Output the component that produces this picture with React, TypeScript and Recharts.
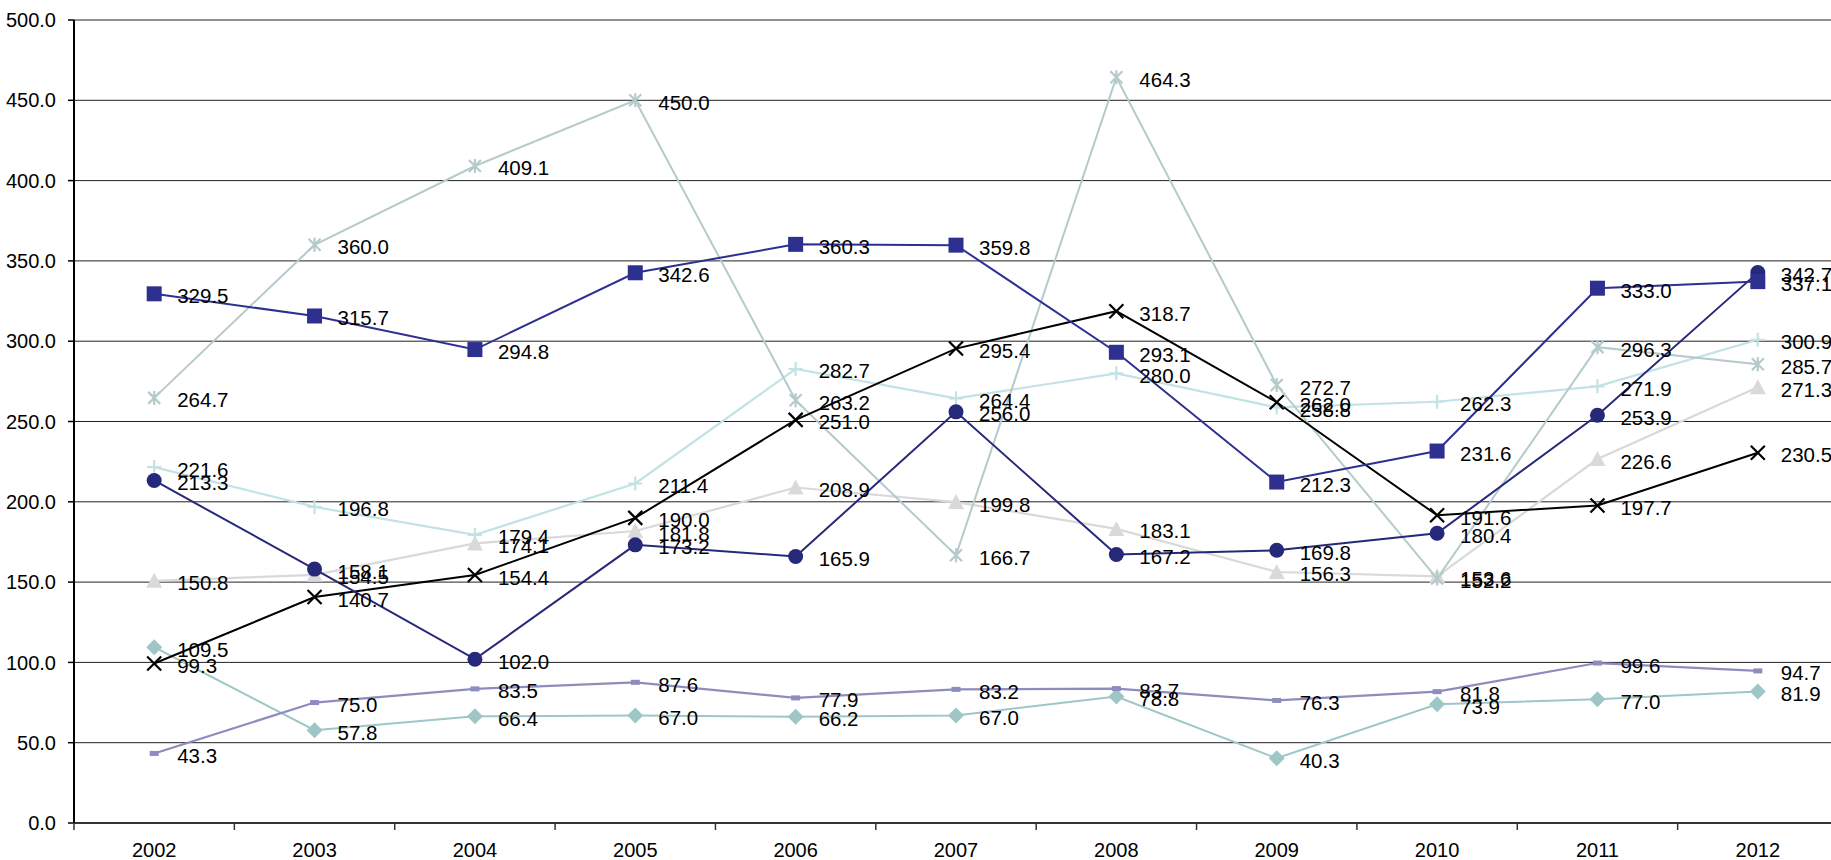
import React from 'react';
import { LineChart, Line, XAxis, YAxis, CartesianGrid } from 'recharts';

const years = ['2002', '2003', '2004', '2005', '2006', '2007', '2008', '2009', '2010', '2011', '2012'];

const squares = [329.5, 315.7, 294.8, 342.6, 360.3, 359.8, 293.1, 212.3, 231.6, 333.0, 337.1];
const circles = [213.3, 158.1, 102.0, 173.2, 165.9, 256.0, 167.2, 169.8, 180.4, 253.9, 342.7];
const crosses = [99.3, 140.7, 154.4, 190.0, 251.0, 295.4, 318.7, 262.0, 191.6, 197.7, 230.5];
const stars = [264.7, 360.0, 409.1, 450.0, 263.2, 166.7, 464.3, 272.7, 152.2, 296.3, 285.7];
const pluses = [221.6, 196.8, 179.4, 211.4, 282.7, 264.4, 280.0, 258.8, 262.3, 271.9, 300.9];
const triangles = [150.8, 154.5, 174.1, 181.8, 208.9, 199.8, 183.1, 156.3, 153.6, 226.6, 271.3];
const dashes = [43.3, 75.0, 83.5, 87.6, 77.9, 83.2, 83.7, 76.3, 81.8, 99.6, 94.7];
const diamonds = [109.5, 57.8, 66.4, 67.0, 66.2, 67.0, 78.8, 40.3, 73.9, 77.0, 81.9];

const yTicks = [0, 50, 100, 150, 200, 250, 300, 350, 400, 450, 500];
const xTicks = [-0.5, 0, 0.5, 1, 1.5, 2, 2.5, 3, 3.5, 4, 4.5, 5, 5.5, 6, 6.5, 7, 7.5, 8, 8.5, 9, 9.5, 10, 10.5];

const data = years.map((year, i) => ({
    x: i,
    year,
    squares: squares[i],
    circles: circles[i],
    crosses: crosses[i],
    stars: stars[i],
    pluses: pluses[i],
    triangles: triangles[i],
    dashes: dashes[i],
    diamonds: diamonds[i],
}));

const FONT = '"Liberation Sans", Arial, sans-serif';
const AXIS_FONT = '"Liberation Sans Narrow", "Arial Narrow", "Liberation Sans", sans-serif';

type Marker = 'square' | 'circle' | 'x' | 'star' | 'plus' | 'triangle' | 'dash' | 'diamond';

const makeDot = (kind: Marker, color: string) => (props: any) => {
    const { cx, cy, index } = props;
    const k = `${kind}-${index}`;
    if (cx == null || cy == null) return <g key={k} />;
    switch (kind) {
        case 'square':
            return <rect key={k} x={cx - 7.5} y={cy - 7.5} width={15} height={15} fill={color} />;
        case 'circle':
            return <circle key={k} cx={cx} cy={cy} r={7.5} fill={color} />;
        case 'x':
            return (
                <path key={k} d={`M${cx - 7},${cy - 7}L${cx + 7},${cy + 7}M${cx - 7},${cy + 7}L${cx + 7},${cy - 7}`}
                    stroke={color} strokeWidth={2.2} fill="none" />
            );
        case 'star':
            return (
                <path key={k}
                    d={`M${cx - 6},${cy - 6}L${cx + 6},${cy + 6}M${cx - 6},${cy + 6}L${cx + 6},${cy - 6}M${cx},${cy - 7}L${cx},${cy + 7}`}
                    stroke={color} strokeWidth={2.2} fill="none" />
            );
        case 'plus':
            return (
                <path key={k} d={`M${cx - 7},${cy}L${cx + 7},${cy}M${cx},${cy - 7}L${cx},${cy + 7}`}
                    stroke={color} strokeWidth={2.2} fill="none" />
            );
        case 'triangle':
            return <path key={k} d={`M${cx},${cy - 8}L${cx + 8},${cy + 7}L${cx - 8},${cy + 7}Z`} fill={color} />;
        case 'dash':
            return <rect key={k} x={cx - 4.5} y={cy - 2.5} width={9} height={5} fill={color} />;
        case 'diamond':
            return <path key={k} d={`M${cx},${cy - 8}L${cx + 8},${cy}L${cx},${cy + 8}L${cx - 8},${cy}Z`} fill={color} />;
    }
    return <g key={k} />;
};

const renderLabel = (props: any) => {
    const { x, y, value, index } = props;
    if (value == null) return null;
    return (
        <text key={`lbl-${index}`} x={x + 23} y={y + 2} dominantBaseline="central" fontSize={20.5}
            fontFamily={FONT} fill="#000">
            {Number(value).toFixed(1)}
        </text>
    );
};

const XTick = (props: any) => {
    const { x, y, payload } = props;
    const v = payload.value;
    if (Number.isInteger(v)) {
        return (
            <text x={x} y={y + 27} textAnchor="middle" dominantBaseline="central" fontSize={20}
                fontFamily={AXIS_FONT} fill="#000">
                {years[v]}
            </text>
        );
    }
    return <line x1={x} x2={x} y1={y} y2={y + 7} stroke="#333" strokeWidth={1.5} />;
};

const series: { key: string; color: string; marker: Marker; width: number }[] = [
    { key: 'diamonds', color: '#9FC6C6', marker: 'diamond', width: 2 },
    { key: 'dashes', color: '#8C8CBF', marker: 'dash', width: 2.2 },
    { key: 'triangles', color: '#D9D9D9', marker: 'triangle', width: 2.2 },
    { key: 'pluses', color: '#C3E2E5', marker: 'plus', width: 2.2 },
    { key: 'stars', color: '#B5CACB', marker: 'star', width: 2 },
    { key: 'crosses', color: '#000000', marker: 'x', width: 2 },
    { key: 'circles', color: '#26287A', marker: 'circle', width: 2 },
    { key: 'squares', color: '#2E3090', marker: 'square', width: 2 },
];

export default function App() {
    return (
        <div style={{ width: 1831, height: 860, overflow: 'hidden', background: '#fff' }}>
            <style>{`body{margin:0;overflow:hidden;}`}</style>
            <LineChart width={1840} height={860} data={data} margin={{ top: 20, right: 2, bottom: 0, left: 0 }}>
                <CartesianGrid horizontal vertical={false} stroke="#222" strokeWidth={1} />
                <XAxis
                    dataKey="x"
                    type="number"
                    domain={[-0.5, 10.5]}
                    ticks={xTicks}
                    interval={0}
                    tick={<XTick />}
                    tickLine={false}
                    tickSize={0}
                    tickMargin={0}
                    height={37}
                    axisLine={{ stroke: '#333', strokeWidth: 2 }}
                    allowDataOverflow
                />
                <YAxis
                    type="number"
                    domain={[0, 500]}
                    ticks={yTicks}
                    interval={0}
                    width={74}
                    tickSize={6}
                    tickMargin={12}
                    tickFormatter={(v: number) => v.toFixed(1)}
                    tick={{ fontSize: 20, fill: '#000', fontFamily: AXIS_FONT }}
                    tickLine={{ stroke: '#000', strokeWidth: 1.5 }}
                    axisLine={{ stroke: '#000', strokeWidth: 2 }}
                />
                {series.map((s) => (
                    <Line
                        key={s.key}
                        type="linear"
                        dataKey={s.key}
                        stroke={s.color}
                        strokeWidth={s.width}
                        dot={makeDot(s.marker, s.color)}
                        activeDot={false}
                        label={renderLabel}
                        isAnimationActive={false}
                    />
                ))}
            </LineChart>
        </div>
    );
}
